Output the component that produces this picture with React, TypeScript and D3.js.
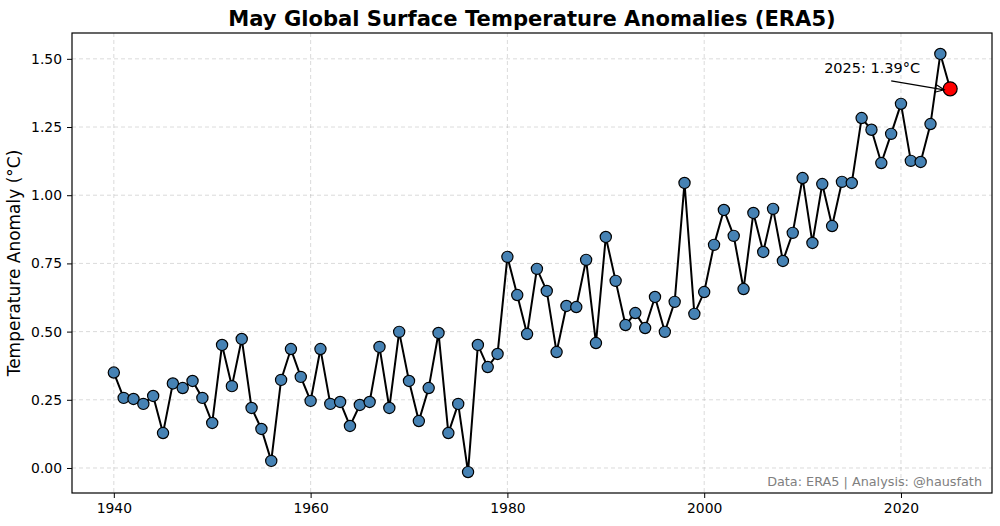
import React, { useEffect, useRef } from 'react';
import * as d3 from 'd3';

const years: number[] = d3.range(1940, 2026);
const anomalies: number[] = [
  0.35, 0.257, 0.253, 0.235, 0.264, 0.128, 0.31, 0.293, 0.319, 0.257,
  0.165, 0.451, 0.30, 0.473, 0.22, 0.143, 0.026, 0.323, 0.436, 0.334,
  0.246, 0.436, 0.235, 0.242, 0.154, 0.231, 0.242, 0.444, 0.22, 0.499,
  0.319, 0.172, 0.293, 0.495, 0.128, 0.235, -0.015, 0.451, 0.37, 0.418,
  0.774, 0.634, 0.491, 0.73, 0.649, 0.425, 0.594, 0.59, 0.763, 0.458,
  0.847, 0.686, 0.524, 0.568, 0.513, 0.627, 0.499, 0.609, 1.045, 0.565,
  0.645, 0.818, 0.946, 0.851, 0.656, 0.935, 0.792, 0.95, 0.759, 0.862,
  1.063, 0.825, 1.041, 0.887, 1.049, 1.045, 1.283, 1.24, 1.118, 1.225,
  1.335, 1.126, 1.122, 1.261, 1.518, 1.39,
];
const xTicks: number[] = [1940, 1960, 1980, 2000, 2020];
const yTicks: number[] = [0, 0.25, 0.5, 0.75, 1.0, 1.25, 1.5];

const W = 1000;
const H = 526;
const FONT = 'DejaVu Sans, sans-serif';

const App: React.FC = () => {
  const svgRef = useRef<SVGSVGElement>(null);

  useEffect(() => {
    if (!svgRef.current) return;
    const svg = d3.select(svgRef.current);
    svg.selectAll('*').remove();

    const margin = { top: 33, right: 8, bottom: 33, left: 72 };
    const width = W - margin.left - margin.right;
    const height = H - margin.top - margin.bottom;

    const data = years.map((y, i) => ({ year: y, value: anomalies[i] }));

    const x = d3.scaleLinear().domain([1935.75, 2029.25]).range([0, width]);
    const y = d3.scaleLinear().domain([-0.0917, 1.5947]).range([height, 0]);

    const g = svg.append('g').attr('transform', `translate(${margin.left},${margin.top})`);

    // grid
    g.append('g')
      .selectAll('line')
      .data(xTicks)
      .enter()
      .append('line')
      .attr('x1', d => x(d)).attr('x2', d => x(d))
      .attr('y1', 0).attr('y2', height)
      .attr('stroke', '#b0b0b0').attr('stroke-opacity', 0.5)
      .attr('stroke-dasharray', '4,3').attr('stroke-width', 0.9);
    g.append('g')
      .selectAll('line')
      .data(yTicks)
      .enter()
      .append('line')
      .attr('x1', 0).attr('x2', width)
      .attr('y1', d => y(d)).attr('y2', d => y(d))
      .attr('stroke', '#b0b0b0').attr('stroke-opacity', 0.5)
      .attr('stroke-dasharray', '4,3').attr('stroke-width', 0.9);

    // line
    const line = d3.line<{ year: number; value: number }>()
      .x(d => x(d.year))
      .y(d => y(d.value));
    g.append('path')
      .datum(data)
      .attr('d', line)
      .attr('fill', 'none')
      .attr('stroke', 'black')
      .attr('stroke-width', 2);

    // points
    g.selectAll('.pt')
      .data(data.slice(0, -1))
      .enter()
      .append('circle')
      .attr('cx', d => x(d.year))
      .attr('cy', d => y(d.value))
      .attr('r', 5.6)
      .attr('fill', '#4682b4')
      .attr('stroke', 'black')
      .attr('stroke-width', 1.2);

    const last = data[data.length - 1];
    g.append('circle')
      .attr('cx', x(last.year))
      .attr('cy', y(last.value))
      .attr('r', 7)
      .attr('fill', '#ff0000')
      .attr('stroke', 'black')
      .attr('stroke-width', 1.2);

    // annotation
    const tx = x(last.year) - 78;
    const ty = y(last.value) - 16;
    g.append('text')
      .attr('x', tx)
      .attr('y', ty)
      .attr('text-anchor', 'middle')
      .attr('font-family', FONT)
      .attr('font-size', 14.5)
      .attr('fill', 'black')
      .text(`${last.year}: ${last.value.toFixed(2)}°C`);
    const ax0 = x(last.year) - 59;
    const ay0 = y(last.value) - 8;
    const ax1 = x(last.year) - 6;
    const ay1 = y(last.value) + 1;
    g.append('line')
      .attr('x1', ax0).attr('y1', ay0).attr('x2', ax1).attr('y2', ay1)
      .attr('stroke', 'black').attr('stroke-width', 1.2);
    const ang = Math.atan2(ay1 - ay0, ax1 - ax0);
    const hl = 9;
    const hw = 4;
    g.append('path')
      .attr('d', `M${ax1 - hl * Math.cos(ang) - hw * Math.sin(ang)},${ay1 - hl * Math.sin(ang) + hw * Math.cos(ang)} L${ax1},${ay1} L${ax1 - hl * Math.cos(ang) + hw * Math.sin(ang)},${ay1 - hl * Math.sin(ang) - hw * Math.cos(ang)}`)
      .attr('fill', 'none').attr('stroke', 'black').attr('stroke-width', 1.2);

    // axes
    const xAxis = g.append('g')
      .attr('transform', `translate(0,${height})`)
      .call(d3.axisBottom(x).tickValues(xTicks).tickFormat(d3.format('d')).tickSize(5).tickPadding(5));
    const yAxis = g.append('g')
      .call(d3.axisLeft(y).tickValues(yTicks).tickFormat(d3.format('.2f')).tickSize(5).tickPadding(5));
    [xAxis, yAxis].forEach(a => {
      a.select('.domain').remove();
      a.selectAll('text').attr('font-family', FONT).attr('font-size', 13.9).attr('fill', 'black');
      a.selectAll('line').attr('stroke', 'black').attr('stroke-width', 1);
    });

    g.append('rect')
      .attr('x', 0).attr('y', 0).attr('width', width).attr('height', height)
      .attr('fill', 'none').attr('stroke', 'black').attr('stroke-width', 1.2);

    // footer
    g.append('text')
      .attr('x', width - 10)
      .attr('y', height - 7)
      .attr('text-anchor', 'end')
      .attr('font-family', FONT)
      .attr('font-size', 12.8)
      .attr('fill', 'gray')
      .text('Data: ERA5 | Analysis: @hausfath');

    // title & labels
    svg.append('text')
      .attr('x', margin.left + width / 2)
      .attr('y', 26)
      .attr('text-anchor', 'middle')
      .attr('font-family', FONT)
      .attr('font-weight', 'bold')
      .attr('font-size', 21.1)
      .text('May Global Surface Temperature Anomalies (ERA5)');

    svg.append('text')
      .attr('transform', `translate(20,${margin.top + height / 2}) rotate(-90)`)
      .attr('text-anchor', 'middle')
      .attr('font-family', FONT)
      .attr('font-size', 17)
      .text('Temperature Anomaly (°C)');
  }, []);

  return (
    <svg
      ref={svgRef}
      width={W}
      height={H}
      style={{ position: 'absolute', left: 0, top: 0, background: 'white' }}
    />
  );
};

export default App;
